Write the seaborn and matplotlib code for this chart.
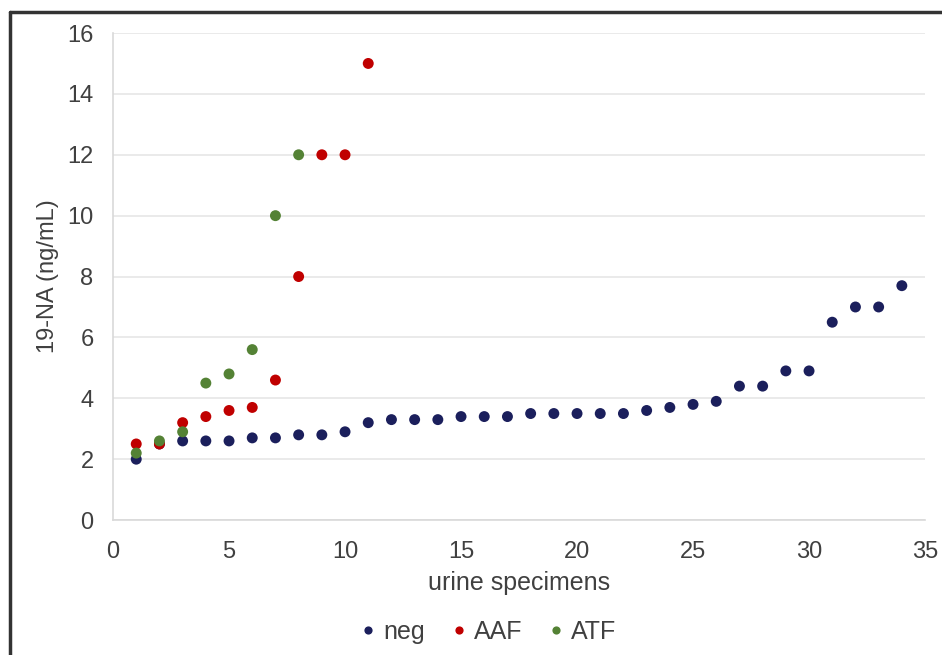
import matplotlib
matplotlib.use("Agg")
import matplotlib.pyplot as plt
import seaborn as sns
import pandas as pd
from matplotlib.lines import Line2D

neg_x = list(range(1, 35))
neg_y = [2.0, 2.5, 2.6, 2.6, 2.6, 2.7, 2.7, 2.8, 2.8, 2.9,
         3.2, 3.3, 3.3, 3.3, 3.4, 3.4, 3.4, 3.5, 3.5, 3.5,
         3.5, 3.5, 3.6, 3.7, 3.8, 3.9, 4.4, 4.4, 4.9, 4.9,
         6.5, 7.0, 7.0, 7.7]
aaf_x = list(range(1, 12))
aaf_y = [2.5, 2.5, 3.2, 3.4, 3.6, 3.7, 4.6, 8.0, 12.0, 12.0, 15.0]
atf_x = list(range(1, 9))
atf_y = [2.2, 2.6, 2.9, 4.5, 4.8, 5.6, 10.0, 12.0]

series_names = ["neg", "AAF", "ATF"]
colors = {"neg": "#1b1f5c", "AAF": "#c00000", "ATF": "#548235"}
xticks = [0, 5, 10, 15, 20, 25, 30, 35]
yticks = [0, 2, 4, 6, 8, 10, 12, 14, 16]

df = pd.concat([
    pd.DataFrame({"x": neg_x, "y": neg_y, "series": "neg"}),
    pd.DataFrame({"x": aaf_x, "y": aaf_y, "series": "AAF"}),
    pd.DataFrame({"x": atf_x, "y": atf_y, "series": "ATF"}),
], ignore_index=True)

sns.set_theme(style="white")
plt.rcParams["font.family"] = ["Liberation Sans", "DejaVu Sans"]

fig = plt.figure(figsize=(9.42, 6.55), dpi=100)
ax = fig.add_axes([0.12, 0.206, 0.862, 0.7436])

sns.scatterplot(data=df, x="x", y="y", hue="series", hue_order=series_names,
                palette=colors, s=62, edgecolor="none", ax=ax, zorder=3)

ax.set_xlim(0, 35)
ax.set_ylim(0, 16)
ax.set_xticks(xticks)
ax.set_yticks(yticks)
ax.tick_params(axis="both", length=0, labelsize=17, labelcolor="#404040")
ax.tick_params(axis="y", pad=14)
ax.tick_params(axis="x", pad=15)
ax.grid(axis="y", color="#e6e6e6", linewidth=1.2)
ax.set_axisbelow(True)
for side in ["top", "right"]:
    ax.spines[side].set_visible(False)
for side in ["left", "bottom"]:
    ax.spines[side].set_color("#d9d9d9")
    ax.spines[side].set_linewidth(1.2)

ax.set_xlabel("urine specimens", fontsize=18, color="#404040", labelpad=6)
ax.set_ylabel("19-NA (ng/mL)", fontsize=17, color="#404040", labelpad=6)

sns.move_legend(ax, "center", bbox_to_anchor=(489 / 942, 0.035),
                bbox_transform=fig.transFigure, ncol=3,
                frameon=False, title=None, fontsize=18, handlelength=0.5,
                handletextpad=0.35, columnspacing=1.1, markerscale=0.75,
                borderpad=0.1)
for t in ax.get_legend().get_texts():
    t.set_color("#404040")

# outer border (top and left edges visible)
fig.add_artist(Line2D([0.0106, 1.0], [0.9817, 0.9817], transform=fig.transFigure,
                      color="#333333", linewidth=2.5))
fig.add_artist(Line2D([0.0106, 0.0106], [0.0, 0.9817], transform=fig.transFigure,
                      color="#333333", linewidth=2.5))

fig.savefig("out.png", dpi=100)
